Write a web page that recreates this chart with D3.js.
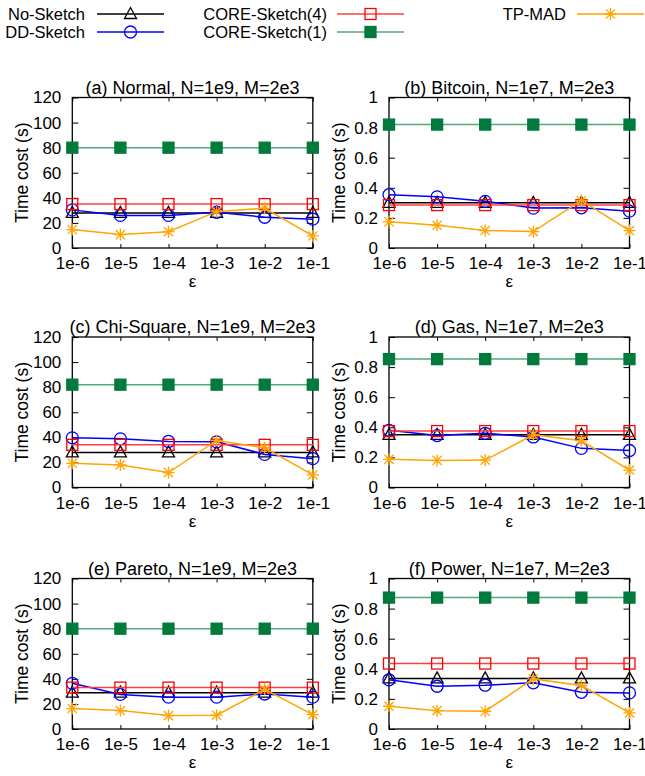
<!DOCTYPE html>
<html>
<head>
<meta charset="utf-8">
<script src="https://cdn.jsdelivr.net/npm/d3@7"></script>
<style>
  body { margin: 0; background: #fff; }
  svg text { font-family: "Liberation Sans", Arial, sans-serif; fill: #000; }
</style>
</head>
<body>
<div id="chart"></div>
<script>
// x categories (epsilon)
var epsLabels = ["1e-6", "1e-5", "1e-4", "1e-3", "1e-2", "1e-1"];

var panelTitles = [
  "(a) Normal, N=1e9, M=2e3",
  "(b) Bitcoin, N=1e7, M=2e3",
  "(c) Chi-Square, N=1e9, M=2e3",
  "(d) Gas, N=1e7, M=2e3",
  "(e) Pareto, N=1e9, M=2e3",
  "(f) Power, N=1e7, M=2e3"
];

// y ticks for the two columns
var yTicksLeft = [0, 20, 40, 60, 80, 100, 120];
var yTicksRight = [0, 0.2, 0.4, 0.6, 0.8, 1];

// series values, one row per panel (a..f)
var noSketch = [
  [28, 28, 28, 28, 28, 28],
  [0.30, 0.30, 0.30, 0.30, 0.30, 0.30],
  [28, 28, 28, 28, 28, 28],
  [0.35, 0.35, 0.35, 0.35, 0.35, 0.35],
  [29, 29, 29, 29, 29, 29],
  [0.336, 0.336, 0.336, 0.336, 0.336, 0.336]
];
var ddSketch = [
  [30.4, 26, 26, 28.5, 24.5, 23],
  [0.354, 0.34, 0.31, 0.265, 0.267, 0.245],
  [39.6, 38.8, 36.7, 36.4, 26.4, 23],
  [0.38, 0.345, 0.36, 0.336, 0.26, 0.246],
  [36.4, 27.6, 25.4, 25.4, 27.9, 25.4],
  [0.327, 0.284, 0.291, 0.307, 0.244, 0.24]
];
var core4 = [
  [35, 35, 35, 35, 35, 35],
  [0.285, 0.285, 0.285, 0.285, 0.285, 0.285],
  [34, 34, 34, 34, 34, 34],
  [0.375, 0.375, 0.375, 0.375, 0.375, 0.375],
  [33, 33, 33, 33, 33, 33],
  [0.435, 0.435, 0.435, 0.435, 0.435, 0.435]
];
var core1 = [
  [80, 80, 80, 80, 80, 80],
  [0.82, 0.82, 0.82, 0.82, 0.82, 0.82],
  [82, 82, 82, 82, 82, 82],
  [0.853, 0.853, 0.853, 0.853, 0.853, 0.853],
  [80, 80, 80, 80, 80, 80],
  [0.873, 0.873, 0.873, 0.873, 0.873, 0.873]
];
var tpMad = [
  [14.7, 10.7, 13, 29, 31.7, 9.6],
  [0.174, 0.151, 0.116, 0.109, 0.316, 0.116],
  [19.3, 18, 11.9, 37.5, 31.7, 10],
  [0.187, 0.18, 0.182, 0.35, 0.31, 0.116],
  [16.3, 14.7, 10.7, 11, 31.6, 11.5],
  [0.151, 0.122, 0.118, 0.333, 0.289, 0.107]
];

var seriesNames = ["No-Sketch", "DD-Sketch", "CORE-Sketch(4)", "CORE-Sketch(1)", "TP-MAD"];

var series = [
  {name: seriesNames[0], data: noSketch, line: "#000000", mark: "triangle", color: "#000000"},
  {name: seriesNames[1], data: ddSketch, line: "#0000ff", mark: "circle", color: "#0000ff"},
  {name: seriesNames[2], data: core4, line: "#ff4040", mark: "square", color: "#ff0000"},
  {name: seriesNames[3], data: core1, line: "#52a97a", mark: "fsquare", color: "#007a3d"},
  {name: seriesNames[4], data: tpMad, line: "#ffa500", mark: "star", color: "#ffa500"}
];

var W = 645, H = 776;
var svg = d3.select("#chart").append("svg").attr("width", W).attr("height", H);

// draws a gnuplot-like marker at (x,y)
function marker(g, type, x, y, color) {
  if (type == "circle") {
    g.append("circle").attr("cx", x).attr("cy", y).attr("r", 6)
      .attr("fill", "none").attr("stroke", color).attr("stroke-width", 1.3);
  } else if (type == "square" || type == "fsquare") {
    g.append("rect").attr("x", x - 5.5).attr("y", y - 5.5).attr("width", 11).attr("height", 11)
      .attr("fill", type == "fsquare" ? color : "none")
      .attr("stroke", color).attr("stroke-width", 1.3);
  } else if (type == "triangle") {
    var p = "M" + (x - 6) + "," + (y + 4.5) + "L" + (x + 6) + "," + (y + 4.5) + "L" + x + "," + (y - 6.5) + "Z";
    g.append("path").attr("d", p).attr("fill", "none").attr("stroke", color).attr("stroke-width", 1.3);
  } else if (type == "star") {
    var s = 6, d = 4.6;
    var p = "M" + (x - s) + "," + y + "L" + (x + s) + "," + y +
      "M" + x + "," + (y - s) + "L" + x + "," + (y + s) +
      "M" + (x - d) + "," + (y - d) + "L" + (x + d) + "," + (y + d) +
      "M" + (x - d) + "," + (y + d) + "L" + (x + d) + "," + (y - d);
    g.append("path").attr("d", p).attr("fill", "none").attr("stroke", color).attr("stroke-width", 1.3);
  }
}

// legend
var legendPos = [
  {tx: 85, y: 14, x1: 97, x2: 164},
  {tx: 85, y: 32, x1: 97, x2: 164},
  {tx: 327, y: 14, x1: 337, x2: 404},
  {tx: 327, y: 32, x1: 337, x2: 404},
  {tx: 566, y: 14, x1: 577, x2: 644}
];
var legend = svg.append("g");
series.forEach(function(s, i) {
  var lp = legendPos[i];
  legend.append("text").attr("x", lp.tx).attr("y", lp.y).attr("dy", "0.35em")
    .attr("text-anchor", "end").style("font-size", "16.5px").text(s.name);
  legend.append("line").attr("x1", lp.x1).attr("x2", lp.x2).attr("y1", lp.y).attr("y2", lp.y)
    .attr("stroke", s.line).attr("stroke-width", 1.5);
  marker(legend, s.mark, (lp.x1 + lp.x2) / 2, lp.y, s.color);
});

// panels
var colX = [72.3, 389];
var rowY = [97.5, 337, 578.5];
var pw = 240.5, ph = 150.5;

panelTitles.forEach(function(title, p) {
  var col = p % 2, row = Math.floor(p / 2);
  var g = svg.append("g").attr("transform", "translate(" + colX[col] + "," + rowY[row] + ")");
  var yMax = col == 0 ? 120 : 1;
  var yTicks = col == 0 ? yTicksLeft : yTicksRight;

  var x = d3.scalePoint().domain(epsLabels).range([0, pw]);
  var y = d3.scaleLinear().domain([0, yMax]).range([ph, 0]);

  // axes with inward ticks
  var ax = g.append("g");
  ax.append("g").attr("transform", "translate(0," + ph + ")")
    .call(d3.axisBottom(x).tickSizeInner(-4).tickSizeOuter(0).tickPadding(9));
  ax.append("g")
    .call(d3.axisTop(x).tickSizeInner(-4).tickSizeOuter(0).tickFormat(""));
  ax.append("g")
    .call(d3.axisLeft(y).tickValues(yTicks).tickSizeInner(-6).tickSizeOuter(0).tickPadding(11)
      .tickFormat(function(d) { return d3.format("~g")(d); }));
  ax.append("g").attr("transform", "translate(" + pw + ",0)")
    .call(d3.axisRight(y).tickValues(yTicks).tickSizeInner(-6).tickSizeOuter(0).tickFormat(""));
  ax.selectAll(".domain").remove();
  ax.selectAll(".tick line").attr("stroke", "#000").attr("stroke-width", 1);
  ax.selectAll("text").attr("fill", "#000")
    .style("font-family", "Liberation Sans, Arial, sans-serif")
    .style("font-size", "17px");

  g.append("rect").attr("width", pw).attr("height", ph)
    .attr("fill", "none").attr("stroke", "#000").attr("stroke-width", 1.3);

  // series
  series.forEach(function(s) {
    var vals = s.data[p];
    var line = d3.line().x(function(d, i) { return x(epsLabels[i]); }).y(function(d) { return y(d); });
    g.append("path").datum(vals).attr("d", line)
      .attr("fill", "none").attr("stroke", s.line).attr("stroke-width", 1.5);
    var mg = g.append("g");
    vals.forEach(function(v, i) { marker(mg, s.mark, x(epsLabels[i]), y(v), s.color); });
  });

  g.append("text").attr("x", pw / 2).attr("y", -4).attr("text-anchor", "middle")
    .style("font-size", "18px").text(title);
  g.append("text").attr("x", pw / 2).attr("y", ph + 39).attr("text-anchor", "middle")
    .style("font-size", "17px").text("ε");
  g.append("text").attr("transform", "translate(-50," + (ph / 2) + ") rotate(-90)")
    .attr("text-anchor", "middle").attr("dy", "0.35em")
    .style("font-size", "17.5px").text("Time cost (s)");
});
</script>
</body>
</html>
